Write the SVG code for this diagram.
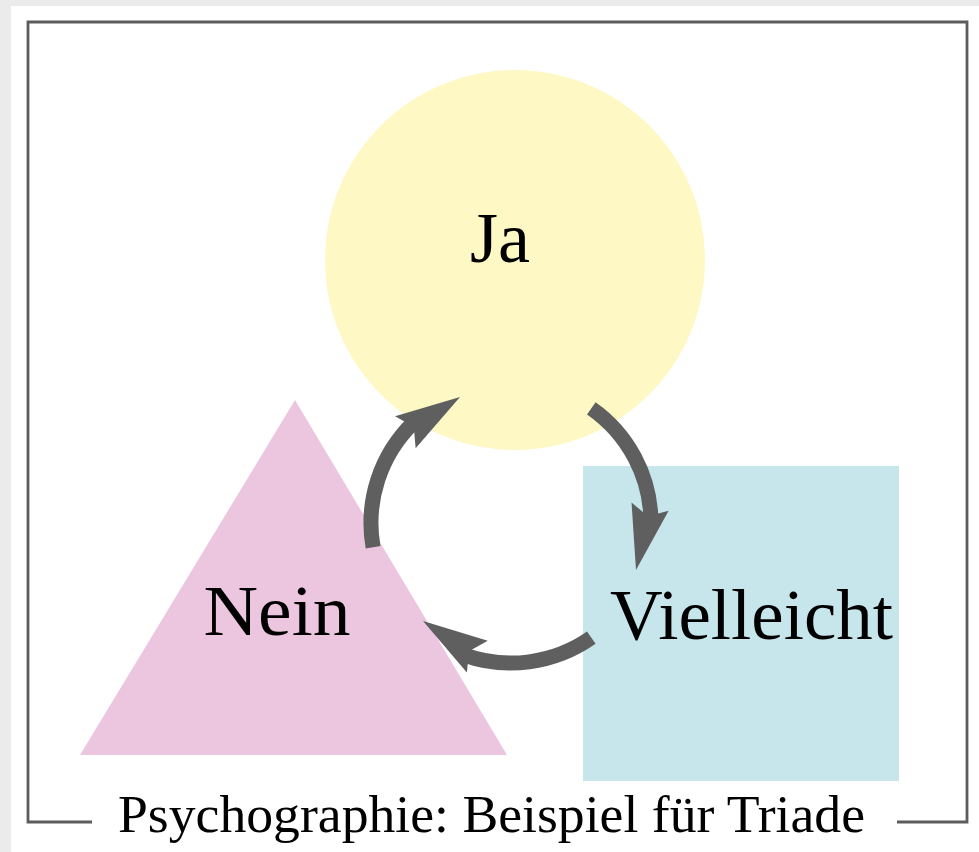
<svg xmlns="http://www.w3.org/2000/svg" xmlns:xlink="http://www.w3.org/1999/xlink" width="979" height="852" viewBox="0 0 979 852">
<style>
.lbl{font-family:"Liberation Serif","Times New Roman",serif;fill:#000;text-anchor:middle}
.frame{fill:none;stroke:#5c5c5c;stroke-width:2.8}
.arc{fill:none;stroke:#5f5f5f;stroke-width:15;stroke-linecap:butt}
.head{fill:#5f5f5f}
</style>
<defs>
<path id="head" d="M0,0 L-65,-19 L-55,0 L-65,19 Z"/>
</defs>
<rect x="0" y="0" width="979" height="852" fill="#ebebeb"/>
<rect x="11" y="6" width="968" height="846" fill="#ffffff"/>
<g id="frame">
<path class="frame" d="M92,822 L28,822 L28,22 L967,22 L967,822 L897,822"/>
<text class="lbl" x="491.5" y="832" font-size="53" textLength="747" lengthAdjust="spacingAndGlyphs">Psychographie: Beispiel für Triade</text>
</g>
<g id="ja">
<circle cx="515" cy="260" r="190" fill="#fef8c4"/>
<text class="lbl" x="500" y="262" font-size="72">Ja</text>
</g>
<g id="nein">
<polygon points="295,400 80,755 507,755" fill="#ecc5df"/>
<text class="lbl" x="277" y="635" font-size="72" textLength="147" lengthAdjust="spacingAndGlyphs">Nein</text>
</g>
<g id="vielleicht">
<rect x="583" y="466" width="316" height="315" fill="#c6e6eb"/>
<text class="lbl" x="751.5" y="639" font-size="72" textLength="283" lengthAdjust="spacingAndGlyphs">Vielleicht</text>
</g>
<g id="connectors">
<path class="arc" d="M373.1,547.3 A140,140 0 0 1 413.7,422.3"/>
<use class="head" xlink:href="#head" href="#head" transform="translate(460,397) rotate(-32.8)"/>
<path class="arc" d="M591.3,408.3 A140,140 0 0 1 650.98,520.6"/>
<use class="head" xlink:href="#head" href="#head" transform="translate(636,570) rotate(102.5)"/>
<path class="arc" d="M591.3,637.7 A140,140 0 0 1 463.1,654.6"/>
<use class="head" xlink:href="#head" href="#head" transform="translate(423,621) rotate(213.3)"/>
</g>
</svg>
